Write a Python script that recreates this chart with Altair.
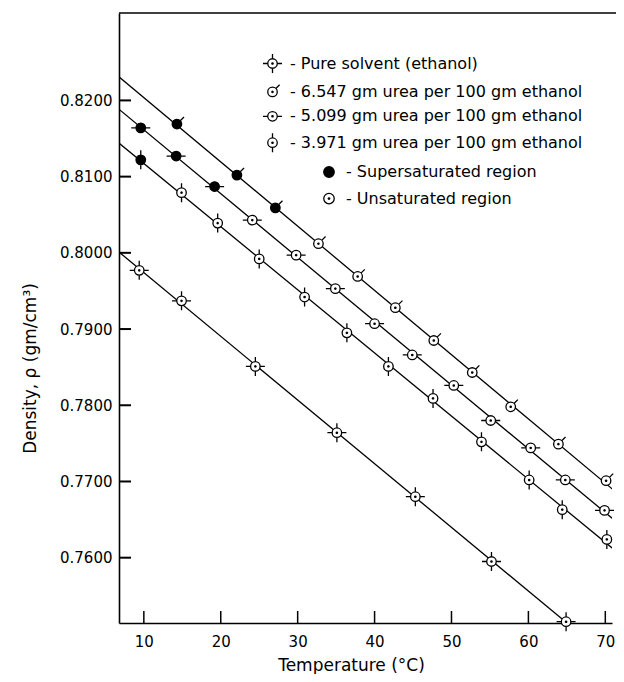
import altair as alt
import pandas as pd

FONT = "DejaVu Sans"

# ---- data ----
series_names = [
    "Pure solvent (ethanol)",
    "6.547 gm urea per 100 gm ethanol",
    "5.099 gm urea per 100 gm ethanol",
    "3.971 gm urea per 100 gm ethanol",
]
region_names = ["Supersaturated region", "Unsaturated region"]

pure_T = [9.4, 14.9, 24.5, 35.1, 45.3, 55.2, 64.9]
pure_rho = [0.7977, 0.7937, 0.7851, 0.7764, 0.7680, 0.7595, 0.7516]
pure_region = ["U"] * 7

u6547_T = [14.3, 22.1, 27.1, 32.7, 37.8, 42.7, 47.7, 52.7, 57.7, 63.9, 70.1]
u6547_rho = [0.8169, 0.8102, 0.8059, 0.8012, 0.7969, 0.7928, 0.7885, 0.7843, 0.7798, 0.7749, 0.7701]
u6547_region = ["S", "S", "S"] + ["U"] * 8

u5099_T = [9.6, 14.2, 19.2, 24.1, 29.8, 34.9, 40.0, 44.9, 50.3, 55.1, 60.3, 64.8, 69.9]
u5099_rho = [0.8164, 0.8127, 0.8087, 0.8043, 0.7997, 0.7953, 0.7907, 0.7866, 0.7826, 0.7780, 0.7744, 0.7702, 0.7662]
u5099_region = ["S", "S", "S"] + ["U"] * 10

u3971_T = [9.6, 14.9, 19.6, 25.0, 30.9, 36.4, 41.8, 47.6, 53.9, 60.1, 64.4, 70.2]
u3971_rho = [0.8122, 0.8079, 0.8039, 0.7992, 0.7942, 0.7895, 0.7851, 0.7809, 0.7752, 0.7702, 0.7663, 0.7624]
u3971_region = ["S"] + ["U"] * 11

x_ticks = [10, 20, 30, 40, 50, 60, 70]
y_ticks = [0.76, 0.77, 0.78, 0.79, 0.80, 0.81, 0.82]

x_domain = [6.77, 70.87]
y_domain = [0.75143, 0.83147]

# ---- build table ----
rows = []
for name, Ts, rs, regs in [
    (series_names[0], pure_T, pure_rho, pure_region),
    (series_names[1], u6547_T, u6547_rho, u6547_region),
    (series_names[2], u5099_T, u5099_rho, u5099_region),
    (series_names[3], u3971_T, u3971_rho, u3971_region),
]:
    for t, r, g in zip(Ts, rs, regs):
        rows.append({"series": name, "T": t, "rho": r,
                     "region": region_names[0] if g == "S" else region_names[1]})
df = pd.DataFrame(rows)

W, H = 493, 610

circle = "M -0.5 0 A 0.5 0.5 0 1 0 0.5 0 A 0.5 0.5 0 1 0 -0.5 0 Z "
dot = "M -0.07 0 A 0.07 0.07 0 1 0 0.07 0 A 0.07 0.07 0 1 0 -0.07 0 Z "
shape_paths = [
    circle + dot + "M 0.5 0 L 1 0 M -0.5 0 L -1 0 M 0 0.5 L 0 1 M 0 -0.5 L 0 -1",
    circle + dot + "M 0.35 -0.35 L 0.75 -0.75",
    circle + dot + "M 0.5 0 L 1 0 M -0.5 0 L -1 0",
    circle + dot + "M 0 0.5 L 0 1 M 0 -0.5 L 0 -1",
]
legend_circle = ("M -1 0 A 1 1 0 1 0 1 0 A 1 1 0 1 0 -1 0 Z "
                 "M -0.14 0 A 0.14 0.14 0 1 0 0.14 0 A 0.14 0.14 0 1 0 -0.14 0 Z")

xscale = alt.Scale(domain=x_domain, nice=False, zero=False)
yscale = alt.Scale(domain=y_domain, nice=False, zero=False)

xaxis = alt.Axis(values=x_ticks, format="d", ticks=False, grid=False,
                 domainColor="black", domainWidth=1.6,
                 labelFont=FONT, labelFontSize=15, labelColor="black", labelPadding=11,
                 title="Temperature   (°C)", titleFont=FONT, titleFontSize=17,
                 titleFontWeight="normal", titleColor="black",
                 titleX=232, titleY=47, titleAlign="center", titleBaseline="alphabetic")
yaxis = alt.Axis(values=y_ticks, format=".4f", ticks=False, grid=False,
                 domainColor="black", domainWidth=1.6,
                 labelFont=FONT, labelFontSize=15, labelColor="black", labelPadding=7,
                 title="Density, ρ (gm/cm³)", titleFont=FONT, titleFontSize=17,
                 titleFontWeight="normal", titleColor="black", titleAngle=270,
                 titleX=-84, titleY=355, titleAlign="center", titleBaseline="alphabetic")

ytick_df = pd.DataFrame({"v": y_ticks})
xtick_df = pd.DataFrame({"v": x_ticks})

ytick_layer = alt.Chart(ytick_df).mark_rule(color="black", strokeWidth=2).encode(
    y=alt.Y("v:Q", scale=yscale, axis=yaxis), x=alt.value(0), x2=alt.value(12))
xtick_layer = alt.Chart(xtick_df).mark_rule(color="black", strokeWidth=1.5).encode(
    x=alt.X("v:Q", scale=xscale, axis=xaxis), y=alt.value(H), y2=alt.value(H - 12))
top_border = alt.Chart(pd.DataFrame({"a": [0]})).mark_rule(color="black", strokeWidth=1.6).encode(
    y=alt.value(0), x=alt.value(0), x2=alt.value(W + 4))

lines = alt.Chart(df).transform_regression(
    "T", "rho", groupby=["series"], extent=[x_domain[0] - 1, x_domain[1] + 1]
).mark_line(color="black", strokeWidth=1.3, clip=True).encode(
    x=alt.X("T:Q", scale=xscale, axis=xaxis),
    y=alt.Y("rho:Q", scale=yscale, axis=yaxis),
    detail="series:N",
)

points = alt.Chart(df).mark_point(filled=True, stroke="black", strokeWidth=1.3,
                                  size=361, opacity=1).encode(
    x=alt.X("T:Q", scale=xscale, axis=xaxis),
    y=alt.Y("rho:Q", scale=yscale, axis=yaxis),
    shape=alt.Shape("series:N", scale=alt.Scale(domain=series_names, range=shape_paths),
                    legend=alt.Legend(orient="none", legendX=143, legendY=40, title=None,
                                      padding=0, rowPadding=5.4, labelOffset=7,
                                      symbolSize=361, symbolFillColor="white",
                                      symbolStrokeColor="black", symbolStrokeWidth=1.3,
                                      labelFont=FONT, labelFontSize=16, labelColor="black",
                                      labelLimit=400, labelExpr="'- ' + datum.label")),
    fill=alt.Fill("region:N", scale=alt.Scale(domain=region_names, range=["black", "white"]),
                  legend=alt.Legend(orient="none", legendX=202, legendY=151, title=None,
                                    padding=0, rowPadding=10.6, labelOffset=9,
                                    symbolType=legend_circle, symbolSize=110,
                                    symbolStrokeColor="black", symbolStrokeWidth=1.3,
                                    labelFont=FONT, labelFontSize=16, labelColor="black",
                                    labelLimit=400, labelExpr="'- ' + datum.label")),
)

chart = alt.layer(ytick_layer, xtick_layer, top_border, lines, points).properties(
    width=W, height=H,
    padding={"left": 111, "top": 5, "right": 4, "bottom": 51},
    autosize=alt.AutoSizeParams(type="none"),
).configure_view(stroke=None)

chart.save("out.html", embed_options={"renderer": "svg", "actions": False})
